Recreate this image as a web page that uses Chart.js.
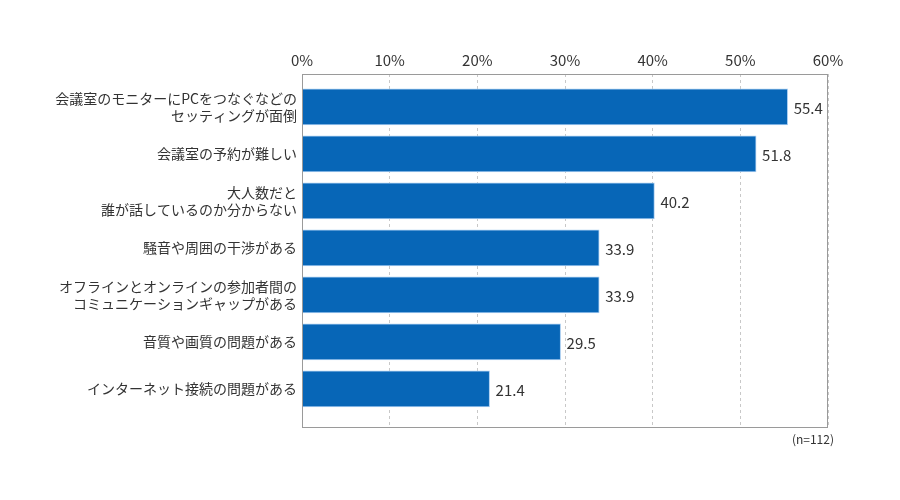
<!DOCTYPE html>
<html>
<head>
<meta charset="utf-8">
<script src="https://cdn.jsdelivr.net/npm/chart.js@4"></script>
<style>
  html, body { margin: 0; padding: 0; background: #fff; }
  #wrap { width: 900px; height: 500px; position: relative; }
</style>
</head>
<body>
<div id="wrap"><canvas id="myChart"></canvas></div>
<script>
// categories (one entry per bar, split into display lines)
const categories = [
    ['会議室のモニターにPCをつなぐなどの', 'セッティングが面倒'],
    ['会議室の予約が難しい'],
    ['大人数だと', '誰が話しているのか分からない'],
    ['騒音や周囲の干渉がある'],
    ['オフラインとオンラインの参加者間の', 'コミュニケーションギャップがある'],
    ['音質や画質の問題がある'],
    ['インターネット接続の問題がある']
];
const values = [55.4, 51.8, 40.2, 33.9, 33.9, 29.5, 21.4];
const xTicks = [0, 10, 20, 30, 40, 50, 60];
const sampleNote = '(n=112)';

const FONT = '"Noto Sans CJK JP", "Noto Sans", sans-serif';
const TEXT = '#333333';

const framePlugin = {
    id: 'frame',
    afterDraw(chart) {
        const ctx = chart.ctx;
        const a = chart.chartArea;
        ctx.save();
        ctx.strokeStyle = '#9a9a9a';
        ctx.lineWidth = 1;
        ctx.strokeRect(a.left + 0.5, a.top + 0.5, a.right - a.left - 1, a.bottom - a.top);

        // value labels at the end of each bar
        const meta = chart.getDatasetMeta(0);
        ctx.fillStyle = TEXT;
        ctx.font = '15px ' + FONT;
        ctx.textAlign = 'left';
        ctx.textBaseline = 'middle';
        meta.data.forEach((bar, i) => {
            ctx.fillText(values[i].toFixed(1), bar.x + 6, bar.y + 1);
        });

        ctx.font = '12px ' + FONT;
        ctx.textAlign = 'right';
        ctx.fillText(sampleNote, a.right + 6, a.bottom + 12);
        ctx.restore();
    }
};

const config = {
    type: 'bar',
    data: {
        datasets: [{
            data: values.map((v, i) => ({ x: v, y: i })),
            backgroundColor: '#0766b7',
            borderColor: '#a9cdf0',
            borderWidth: 1,
            barThickness: 36
        }]
    },
    options: {
        indexAxis: 'y',
        responsive: false,
        animation: false,
        layout: { padding: { left: 0, right: 72, top: 0, bottom: 73 } },
        plugins: {
            legend: { display: false },
            tooltip: { enabled: false }
        },
        scales: {
            x: {
                position: 'top',
                min: 0,
                max: 60,
                afterBuildTicks: (axis) => { axis.ticks = xTicks.map(v => ({ value: v })); },
                afterFit: (axis) => { axis.height = 74; },
                ticks: {
                    callback: (v) => v + '%',
                    color: TEXT,
                    font: { family: FONT, size: 15 },
                    padding: 5,
                    maxRotation: 0
                },
                grid: {
                    color: '#c8c8c8',
                    drawTicks: false
                },
                border: { display: false, dash: [3, 3] }
            },
            y: {
                type: 'linear',
                reverse: true,
                offset: false,
                bounds: 'data',
                min: -0.70,
                max: 6.81,
                afterBuildTicks: (axis) => { axis.ticks = categories.map((c, i) => ({ value: i })); },
                afterFit: (axis) => { axis.width = 302; },
                ticks: {
                    autoSkip: false,
                    callback: (v) => categories[v],
                    color: TEXT,
                    font: { family: FONT, size: 14, lineHeight: 1.2 },
                    padding: 5
                },
                grid: { display: false, drawTicks: false },
                border: { display: false }
            }
        }
    },
    plugins: [framePlugin]
};

const canvas = document.getElementById('myChart');
canvas.width = 900;
canvas.height = 500;
const myChart = new Chart(canvas, config);
</script>
</body>
</html>
